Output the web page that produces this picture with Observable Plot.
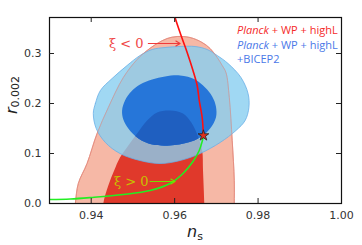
<!DOCTYPE html>
<html><head><meta charset="utf-8">
<script src="https://cdn.jsdelivr.net/npm/d3@7"></script>
<script src="https://cdn.jsdelivr.net/npm/@observablehq/plot@0.6"></script>
<style>body{margin:0;background:#fff}svg{display:block}</style>
</head><body><div id="chart"></div>
<script>
// Planck + WP + highL, 95% contour
const red95Ns = [0.9359,0.9362,0.9369,0.9390,0.9414,0.9441,0.9477,0.9510,0.9534,0.9558,0.9582,0.9606,0.9637,0.9666,0.9685,0.9702,0.9714,0.9723,0.9731,0.9738,0.9743,0.9743,0.9743];
const red95R  = [-0.024,0.000,0.040,0.080,0.140,0.192,0.252,0.288,0.306,0.320,0.330,0.334,0.332,0.322,0.310,0.292,0.276,0.262,0.212,0.126,0.046,0.000,-0.024];
// Planck + WP + highL, 68% contour
const red68Ns = [0.9429,0.9429,0.9441,0.9455,0.9469,0.9489,0.9510,0.9534,0.9558,0.9589,0.9620,0.9640,0.9656,0.9666,0.9668,0.9671,0.9671];
const red68R  = [-0.024,0.000,0.036,0.066,0.092,0.116,0.140,0.166,0.182,0.186,0.180,0.162,0.134,0.106,0.066,0.000,-0.024];
// Planck + WP + highL + BICEP2, 95% contour
const blue95Ns = [0.9405,0.9410,0.9422,0.9450,0.9486,0.9517,0.9546,0.9577,0.9613,0.9649,0.9678,0.9702,0.9728,0.9759,0.9776,0.9778,0.9769,0.9747,0.9709,0.9661,0.9613,0.9565,0.9517,0.9469,0.9434,0.9412];
const blue95R  = [0.180,0.200,0.226,0.250,0.276,0.296,0.308,0.312,0.314,0.314,0.308,0.296,0.280,0.252,0.220,0.192,0.166,0.146,0.122,0.100,0.086,0.080,0.086,0.100,0.122,0.150];
// Planck + WP + highL + BICEP2, 68% contour
const blue68Ns = [0.9474,0.9481,0.9496,0.9517,0.9546,0.9577,0.9613,0.9649,0.9673,0.9690,0.9699,0.9699,0.9685,0.9661,0.9632,0.9589,0.9546,0.9513,0.9489,0.9477];
const blue68R  = [0.186,0.206,0.224,0.238,0.248,0.254,0.256,0.248,0.232,0.214,0.194,0.172,0.150,0.132,0.122,0.116,0.118,0.130,0.150,0.168];
// xi > 0 track
const xiPosNs = [0.9300,0.9350,0.9400,0.9477,0.9541,0.9589,0.9620,0.9644,0.9659,0.9666,0.9669];
const xiPosR  = [0.008,0.009,0.012,0.018,0.026,0.040,0.060,0.084,0.106,0.124,0.136];
// xi < 0 track
const xiNegNs = [0.9669,0.9666,0.9659,0.9654,0.9644,0.9630,0.9618,0.9601,0.9594];
const xiNegR  = [0.136,0.172,0.206,0.236,0.266,0.302,0.330,0.372,0.396];
// xi = 0 point
const starNs = [0.9669];
const starR = [0.136];
// annotations
const noteText = ["ξ < 0", "ξ > 0"];
const noteNs = [0.9484, 0.9496];
const noteR = [0.320, 0.044];
const arrowNs1 = [0.9537, 0.9541];
const arrowNs2 = [0.9613, 0.9601];
const arrowR = [0.320, 0.044];
// ticks
const xTicks = [0.94, 0.96, 0.98];
const xLabelVals = [0.94, 0.96, 0.98, 1.00];
const xLabels = ["0.94", "0.96", "0.98", "1.00"];
const yTicks = [0.1, 0.2, 0.3];
const yLabelVals = [0.0, 0.1, 0.2, 0.3];
const yLabels = ["0.0", "0.1", "0.2", "0.3"];

const zip = (xs, ys) => xs.map((x, i) => ({x, y: ys[i]}));
const red95 = zip(red95Ns, red95R);
const red68 = zip(red68Ns, red68R);
const blue95 = zip(blue95Ns, blue95R);
const blue68 = zip(blue68Ns, blue68R);
const notes = noteText.map((t, i) => ({t, x: noteNs[i], y: noteR[i]}));
const arrows = arrowNs1.map((x1, i) => ({x1, x2: arrowNs2[i], y: arrowR[i]}));

const W = 362, H = 245, ML = 49, MR = 21, MT = 17, MB = 42;
const PW = W - ML - MR, PH = H - MT - MB, TL = 5;

const plot = Plot.plot({
  width: W, height: H, marginLeft: ML, marginRight: MR, marginTop: MT, marginBottom: MB,
  x: {domain: [0.93, 1.0], axis: null},
  y: {domain: [0, 0.372], axis: null},
  style: {fontFamily: "DejaVu Sans", fontSize: "11px", color: "#222", background: "white"},
  marks: [
    Plot.line(red95, {x: "x", y: "y", curve: "catmull-rom-closed", fill: "#f6b8a6", stroke: "#e4806f", strokeWidth: 0.8, clip: true}),
    Plot.line(red68, {x: "x", y: "y", curve: "catmull-rom-closed", fill: "#e0392b", stroke: "none", clip: true}),
    Plot.line(blue95, {x: "x", y: "y", curve: "catmull-rom-closed", fill: "#88cef0", fillOpacity: 0.8, stroke: "#6aaee6", strokeWidth: 0.8, clip: true}),
    Plot.line(red95, {x: "x", y: "y", curve: "catmull-rom-closed", fill: "none", stroke: "#e08a80", strokeOpacity: 0.8, strokeWidth: 0.7, clip: true}),
    Plot.line(blue68, {x: "x", y: "y", curve: "catmull-rom-closed", fill: "#2676d9", stroke: "none"}),
    Plot.line(red68, {x: "x", y: "y", curve: "catmull-rom-closed", fill: "#1f5fc0", stroke: "none"}),
    Plot.line(zip(xiPosNs, xiPosR), {x: "x", y: "y", curve: "catmull-rom", stroke: "#22ee22", strokeWidth: 1.6, clip: true}),
    Plot.line(zip(xiNegNs, xiNegR), {x: "x", y: "y", curve: "catmull-rom", stroke: "#ff1010", strokeWidth: 1.6, clip: true}),
    Plot.arrow(arrows, {x1: "x1", x2: "x2", y1: "y", y2: "y", stroke: (d, i) => i === 0 ? "#f03a3a" : "#77dd00", strokeWidth: 1.2, headLength: 6}),
    Plot.text(notes, {x: "x", y: "y", text: "t", fill: (d, i) => i === 0 ? "#f04848" : "#c8c000", fontFamily: "DejaVu Serif", fontSize: 13}),
    Plot.dot(zip(starNs, starR), {x: "x", y: "y", symbol: "star", r: 3.4, fill: "#e0301c", stroke: "#222", strokeWidth: 0.8}),
    Plot.frame({stroke: "#111", strokeWidth: 1.2}),
    Plot.ruleX(xTicks, {x: d => d, insetTop: PH - TL, stroke: "#222"}),
    Plot.ruleX(xTicks, {x: d => d, insetBottom: PH - TL, stroke: "#222"}),
    Plot.ruleY(yTicks, {y: d => d, insetRight: PW - TL, stroke: "#222"}),
    Plot.ruleY(yTicks, {y: d => d, insetLeft: PW - TL, stroke: "#222"}),
    Plot.text(xLabelVals, {x: d => d, frameAnchor: "bottom", dy: 15, text: (d, i) => xLabels[i], fill: "#333"}),
    Plot.text(yLabelVals, {y: d => d, frameAnchor: "left", dx: -8, textAnchor: "end", text: (d, i) => yLabels[i], fill: "#333"})
  ]
});

document.getElementById("chart").appendChild(plot);

const svg = d3.select(plot);
try {
  const lines = svg.selectAll('g[aria-label="line"]').nodes();
  const bluePath = d3.select(lines[4]).select("path");
  const overlapPath = d3.select(lines[5]).select("path");
  const defs = svg.insert("defs", ":first-child");
  defs.append("clipPath").attr("id", "clipBlue68").append("path").attr("d", bluePath.attr("d"));
  overlapPath.attr("clip-path", "url(#clipBlue68)");
} catch (e) {}

// axis labels
const xl = svg.append("text").attr("x", 187).attr("y", 237).attr("text-anchor", "start")
  .attr("font-family", "DejaVu Sans").attr("fill", "#222");
xl.append("tspan").attr("font-style", "italic").attr("font-size", 16).text("n");
xl.append("tspan").attr("font-size", 11).attr("dy", 2.5).text("s");

const yl = svg.append("text").attr("transform", "translate(17,95) rotate(-90)")
  .attr("text-anchor", "middle").attr("font-family", "DejaVu Sans").attr("fill", "#222");
yl.append("tspan").attr("font-style", "italic").attr("font-size", 16).text("r");
yl.append("tspan").attr("font-size", 11).attr("dy", 2).text("0.002");

// legend
const legend = [
  {parts: [["Planck", true], [" + WP + highL", false]], color: "#f52a2a", y: 34},
  {parts: [["Planck", true], [" + WP + highL", false]], color: "#4a78e8", y: 48.7},
  {parts: [["+BICEP2", false]], color: "#4a78e8", y: 63}
];
for (const row of legend) {
  const t = svg.append("text").attr("x", 237).attr("y", row.y).attr("text-anchor", "start")
    .attr("font-family", "Open Sans").attr("font-size", 11).attr("fill", row.color);
  for (const [s, it] of row.parts) {
    const sp = t.append("tspan").text(s);
    if (it) sp.attr("font-style", "italic");
  }
}
</script></body></html>
